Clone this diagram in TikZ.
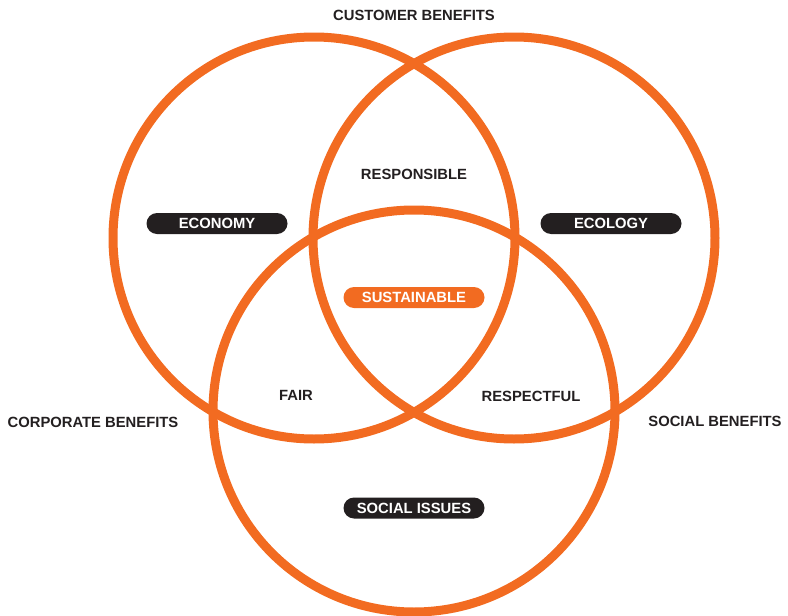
\documentclass[tikz,border=0pt]{standalone}
\usepackage{fontspec}
\setmainfont{Liberation Sans}
\usepackage{xcolor}
\usetikzlibrary{positioning}

\definecolor{vennorange}{HTML}{F26B21}
\definecolor{venndark}{HTML}{231F20}

\begin{document}
\begin{tikzpicture}[
    x=1pt, y=-1pt,
    ring/.style={circle, draw=vennorange, line width=9pt, minimum size=402pt, inner sep=0pt},
    pill/.style={rectangle, rounded corners=10.5pt, minimum width=141pt, minimum height=21pt, inner sep=0pt, text=white, font=\fontsize{14.8}{16}\selectfont\bfseries},
    label/.style={text=venndark, font=\fontsize{14.8}{16}\selectfont\bfseries, inner sep=0pt}
]
\useasboundingbox (0,0) rectangle (788,616);

% Circles
\node[ring] (left) at (314,238) {};
\node[ring] (right) at (514,238) {};
\node[ring] (bottom) at (414,411) {};

% Outer labels
\node[label] (customer) at (414,15) {CUSTOMER BENEFITS};
\node[label] (corporate) at (93,422) {CORPORATE BENEFITS};
\node[label] (social) at (715,421) {SOCIAL BENEFITS};

% Pills
\node[pill, fill=venndark] (economy) at (217,223.5) {ECONOMY};
\node[pill, fill=venndark] (ecology) at (611,223.5) {ECOLOGY};
\node[pill, fill=vennorange] (sustainable) at (414,297.5) {SUSTAINABLE};
\node[pill, fill=venndark] (issues) at (414,508) {SOCIAL ISSUES};

% Overlap labels
\node[label] (responsible) at (414,174) {RESPONSIBLE};
\node[label] (fair) at (296,395) {FAIR};
\node[label] (respectful) at (531,396) {RESPECTFUL};

\end{tikzpicture}
\end{document}
